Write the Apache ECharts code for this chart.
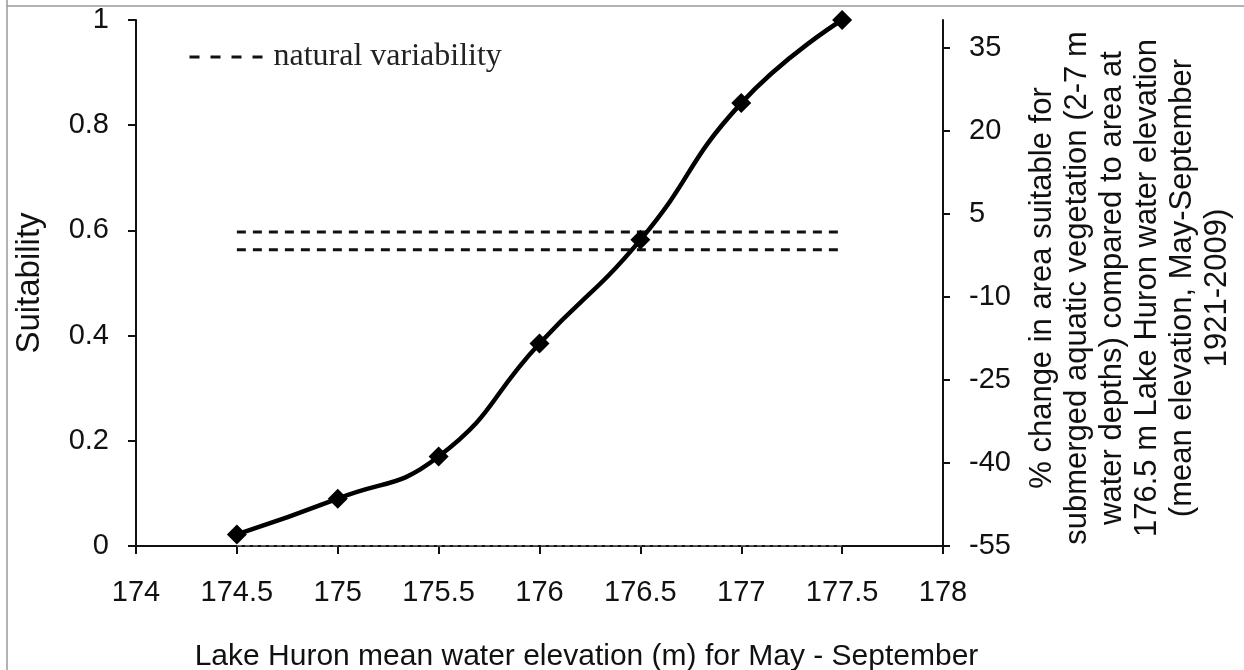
<!DOCTYPE html>
<html>
<head>
<meta charset="utf-8">
<script src="https://cdn.jsdelivr.net/npm/echarts@6/dist/echarts.min.js"></script>
<style>
  html, body { margin: 0; padding: 0; background: #fff; }
  #chart { width: 1244px; height: 670px; }
</style>
</head>
<body>
<div id="chart"></div>
<script>
// elevation (m) and suitability
const elevation = [174.5, 175, 175.5, 176, 176.5, 177, 177.5]
const suitability = [0.022, 0.09, 0.17, 0.385, 0.582, 0.842, 1.0]

// natural variability band (dashed) and the faint zero line
const varX = [174.5, 177.5]
const varUpper = [0.597, 0.597]
const varLower = [0.563, 0.563]
const zeroLine = [0, 0]

// right hand axis labels (% change)
const pctTicks = [-55, -40, -25, -10, 5, 20, 35]

const font = 'Liberation Sans'
const pair = (xs, ys) => xs.map((x, i) => [x, ys[i]])
const dash = [9, 7]

const chart = echarts.init(document.getElementById('chart'))
chart.setOption({
  animation: false,
  backgroundColor: '#fff',
  grid: { left: 136, right: 301, top: 20, bottom: 124, outerBoundsMode: 'none' },
  legend: {
    left: 183,
    top: 36,
    itemWidth: 75,
    itemHeight: 14,
    data: ['natural variability'],
    itemStyle: { color: 'rgba(0,0,0,0)', borderWidth: 0 },
    lineStyle: { type: [10, 11], width: 3, color: '#111' },
    textStyle: {
      fontFamily: 'Liberation Serif',
      fontSize: 32,
      color: '#222',
      padding: [6, 0, 0, 4]
    }
  },
  xAxis: {
    type: 'value',
    min: 174,
    max: 178,
    interval: 0.5,
    name: 'Lake Huron mean water elevation (m) for May - September',
    nameLocation: 'middle',
    nameGap: 96,
    nameTextStyle: { fontFamily: font, fontSize: 30, color: '#111', padding: [0, 0, 0, 94] },
    axisLine: { lineStyle: { color: '#111', width: 2 } },
    axisTick: { length: 8, lineStyle: { color: '#111', width: 2 } },
    axisLabel: { fontFamily: font, fontSize: 29, color: '#111', margin: 32 },
    splitLine: { show: false }
  },
  yAxis: [
    {
      type: 'value',
      min: 0,
      max: 1,
      interval: 0.2,
      name: 'Suitability',
      nameLocation: 'middle',
      nameGap: 90,
      nameTextStyle: { fontFamily: font, fontSize: 33, color: '#111' },
      axisLine: { show: true, lineStyle: { color: '#111', width: 2 } },
      axisTick: { show: true, length: 8, lineStyle: { color: '#111', width: 2 } },
      axisLabel: { fontFamily: font, fontSize: 29, color: '#111', margin: 27 },
      splitLine: { show: false }
    },
    {
      type: 'value',
      position: 'right',
      min: -55,
      max: 40,
      axisLine: { show: true, lineStyle: { color: '#111', width: 2 } },
      axisTick: { show: true, length: 7, customValues: pctTicks, lineStyle: { color: '#111', width: 2 } },
      axisLabel: { fontFamily: font, fontSize: 29, color: '#111', margin: 26, customValues: pctTicks },
      splitLine: { show: false }
    }
  ],
  graphic: [
    { type: 'line', silent: true, shape: { x1: 7, y1: 0, x2: 7, y2: 670 }, style: { stroke: '#999', lineWidth: 1.5 } },
    { type: 'line', silent: true, shape: { x1: 7, y1: 6, x2: 1244, y2: 6 }, style: { stroke: '#999', lineWidth: 1.5 } },
    {
      type: 'text',
      x: 1130,
      y: 288,
      rotation: Math.PI / 2,
      style: {
        text: '% change in area suitable for\nsubmerged aquatic vegetation (2-7 m\nwater depths) compared to area at\n176.5 m Lake Huron water elevation\n(mean elevation, May-September\n1921-2009)',
        font: '31px "Liberation Sans"',
        fill: '#111',
        align: 'center',
        verticalAlign: 'middle',
        lineHeight: 35
      }
    }
  ],
  series: [
    {
      name: 'natural variability',
      type: 'line',
      data: pair(varX, varUpper),
      symbol: 'none',
      lineStyle: { color: '#111', width: 3, type: dash },
      itemStyle: { color: '#111' }
    },
    {
      name: 'natural variability',
      type: 'line',
      data: pair(varX, varLower),
      symbol: 'none',
      lineStyle: { color: '#111', width: 3, type: dash },
      itemStyle: { color: '#111' }
    },
    {
      name: 'zero',
      type: 'line',
      data: pair(varX, zeroLine),
      symbol: 'none',
      lineStyle: { color: '#bbb', width: 1, type: [5, 3] }
    },
    {
      name: 'suitability',
      type: 'line',
      data: pair(elevation, suitability),
      smooth: 0.5,
      symbol: 'diamond',
      symbolSize: 20,
      lineStyle: { color: '#000', width: 4.5 },
      itemStyle: { color: '#000' },
      z: 5
    }
  ]
})
</script>
</body>
</html>
